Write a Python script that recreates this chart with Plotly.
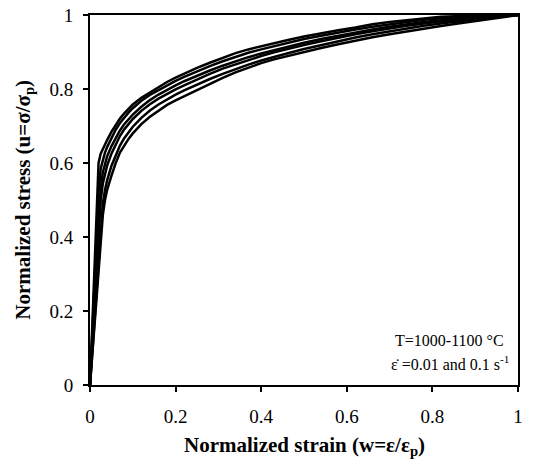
import plotly.graph_objects as go

# Normalized strain grid shared by all flow curves
strain = [0, 0.01, 0.02, 0.025, 0.03, 0.035, 0.04, 0.05, 0.06, 0.07, 0.08, 0.09,
          0.10, 0.12, 0.14, 0.16, 0.18, 0.20, 0.22, 0.25, 0.28, 0.31, 0.34, 0.37,
          0.40, 0.43, 0.46, 0.50, 0.54, 0.58, 0.62, 0.66, 0.70, 0.74, 0.78, 0.82,
          0.86, 0.90, 0.94, 0.97, 1.00]

# Normalized stress for each test condition
stress_1 = [0, 0.300, 0.600, 0.625, 0.638, 0.651, 0.662, 0.684, 0.703, 0.720, 0.734, 0.747,
            0.758, 0.776, 0.791, 0.805, 0.819, 0.831, 0.842, 0.857, 0.871, 0.885, 0.897, 0.907,
            0.916, 0.924, 0.932, 0.942, 0.951, 0.959, 0.966, 0.975, 0.981, 0.986, 0.991, 0.995,
            0.997, 0.998, 0.999, 1.000, 1.000]
stress_2 = [0, 0.260, 0.520, 0.585, 0.610, 0.628, 0.643, 0.668, 0.690, 0.708, 0.723, 0.736,
            0.748, 0.768, 0.784, 0.797, 0.810, 0.822, 0.833, 0.848, 0.862, 0.875, 0.887, 0.898,
            0.907, 0.916, 0.924, 0.935, 0.944, 0.953, 0.961, 0.968, 0.975, 0.981, 0.987, 0.991,
            0.995, 0.998, 0.999, 1.000, 1.000]
stress_3 = [0, 0.210, 0.425, 0.530, 0.575, 0.600, 0.618, 0.645, 0.668, 0.688, 0.705, 0.719,
            0.731, 0.752, 0.770, 0.785, 0.798, 0.810, 0.821, 0.836, 0.850, 0.863, 0.875, 0.886,
            0.896, 0.905, 0.914, 0.925, 0.935, 0.944, 0.953, 0.961, 0.968, 0.975, 0.981, 0.986,
            0.991, 0.995, 0.998, 0.999, 1.000]
stress_4 = [0, 0.200, 0.400, 0.500, 0.545, 0.572, 0.593, 0.625, 0.651, 0.673, 0.691, 0.706,
            0.719, 0.741, 0.759, 0.774, 0.787, 0.799, 0.810, 0.826, 0.841, 0.855, 0.867, 0.879,
            0.889, 0.899, 0.908, 0.919, 0.929, 0.939, 0.948, 0.956, 0.964, 0.971, 0.977, 0.983,
            0.988, 0.993, 0.996, 0.998, 1.000]
stress_5 = [0, 0.170, 0.340, 0.425, 0.490, 0.527, 0.553, 0.592, 0.622, 0.647, 0.667, 0.684,
            0.698, 0.722, 0.742, 0.758, 0.772, 0.785, 0.796, 0.812, 0.827, 0.841, 0.854, 0.866,
            0.877, 0.887, 0.896, 0.908, 0.919, 0.929, 0.939, 0.948, 0.956, 0.964, 0.971, 0.977,
            0.983, 0.989, 0.994, 0.997, 1.000]
stress_6 = [0, 0.153, 0.307, 0.383, 0.460, 0.500, 0.527, 0.565, 0.600, 0.628, 0.648, 0.665,
            0.680, 0.705, 0.725, 0.742, 0.757, 0.769, 0.780, 0.798, 0.815, 0.830, 0.845, 0.858,
            0.870, 0.880, 0.889, 0.900, 0.911, 0.921, 0.931, 0.940, 0.948, 0.956, 0.963, 0.970,
            0.977, 0.984, 0.991, 0.996, 1.000]

curves = [stress_1, stress_2, stress_3, stress_4, stress_5, stress_6]

x_ticks = [0, 0.2, 0.4, 0.6, 0.8, 1]
x_tick_text = ["0", "0.2", "0.4", "0.6", "0.8", "1"]
y_ticks = [0, 0.2, 0.4, 0.6, 0.8, 1]
y_tick_text = ["0", "0.2", "0.4", "0.6", "0.8", "1"]

serif = "Liberation Serif, Times New Roman, serif"

fig = go.Figure()
for s in curves:
    fig.add_trace(go.Scatter(x=strain, y=s, mode="lines",
                             line=dict(color="black", width=2.5),
                             showlegend=False, hoverinfo="skip"))

axis_common = dict(showline=True, linecolor="black", linewidth=2, mirror=True,
                   ticks="outside", ticklen=5, tickwidth=1.5, tickcolor="black",
                   showgrid=False, zeroline=False, automargin=False,
                   tickfont=dict(family=serif, size=19, color="black"))

fig.update_xaxes(range=[0, 1], tickvals=x_ticks, ticktext=x_tick_text,
                 ticklabelstandoff=8, **axis_common)
fig.update_yaxes(range=[0, 1], tickvals=y_ticks, ticktext=y_tick_text,
                 ticklabelstandoff=6, **axis_common)

fig.update_layout(
    width=540, height=462,
    margin=dict(l=90, r=22, t=15, b=77, autoexpand=False),
    plot_bgcolor="white", paper_bgcolor="white",
    annotations=[
        dict(text="<b>Normalized strain (w=ε/ε<sub>p</sub>)</b>", xref="paper", yref="paper",
             x=0.5, y=-0.165, xanchor="center", yanchor="middle", showarrow=False,
             font=dict(family=serif, size=21, color="black")),
        dict(text="<b>Normalized stress (u=σ/σ<sub>p</sub>)</b>", xref="paper", yref="paper",
             x=-0.155, y=0.5, xanchor="center", yanchor="middle", showarrow=False,
             textangle=-90, font=dict(family=serif, size=21, color="black")),
        dict(text="T=1000-1100 °C", xref="paper", yref="paper",
             x=0.84, y=0.12, xanchor="center", yanchor="middle", showarrow=False,
             font=dict(family=serif, size=16, color="black")),
        dict(text="ε̇ =0.01 and 0.1 s<sup>-1</sup>", xref="paper", yref="paper",
             x=0.84, y=0.06, xanchor="center", yanchor="middle", showarrow=False,
             font=dict(family=serif, size=16, color="black")),
    ],
)

fig.write_html("out.html")
